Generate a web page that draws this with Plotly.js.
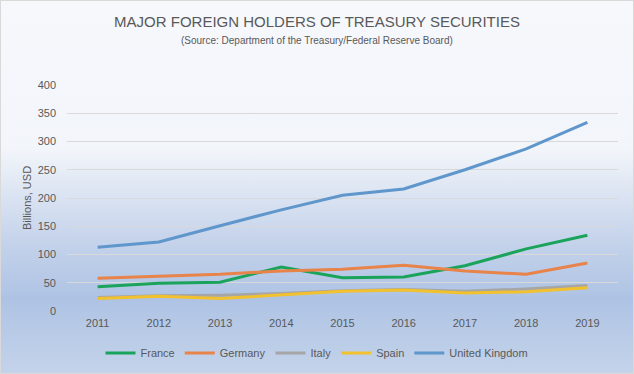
<!DOCTYPE html>
<html>
<head>
<meta charset="utf-8">
<script src="https://cdn.plot.ly/plotly-3.0.1.min.js"></script>
<style>
  html, body { margin: 0; padding: 0; }
  #chart {
    width: 634px; height: 374px; box-sizing: border-box;
    border: 1px solid #d9d9d9;
    background: linear-gradient(to bottom, #f6f8fc 0%, #f2f5fa 40%, #c9d6ec 62%, #aec3e4 80%, #c4d3ea 100%);
  }
</style>
</head>
<body>
<div id="chart"></div>
<script>
const years = ['2011','2012','2013','2014','2015','2016','2017','2018','2019'];
const france  = [43, 49, 51, 78, 59, 60, 80, 110, 134];
const germany = [58, 62, 65, 71, 74, 81, 71, 65, 85];
const italy   = [24, 27, 28, 31, 36, 38, 35, 39, 45];
const spain   = [22, 26, 22, 28, 35, 37, 32, 34, 41];
const uk      = [113, 122, 151, 179, 205, 216, 250, 287, 334];
const seriesNames = ['France', 'Germany', 'Italy', 'Spain', 'United Kingdom'];
const colors = ['#1aa35a', '#e8834a', '#a6a6a6', '#f2c12e', '#5f96cc'];
const values = [france, germany, italy, spain, uk];

const font = '"Liberation Sans", Arial, sans-serif';

const traces = values.map((v, i) => ({
  x: years, y: v, name: seriesNames[i], type: 'scatter', mode: 'lines',
  line: { color: colors[i], width: 3 }
}));

const W = 632, H = 372, mL = 66, mR = 15, plotTop = 84, plotBottom = 62;
const plotH = H - plotTop - plotBottom;
const plotW = W - mL - mR;

const layout = {
  width: W, height: H,
  paper_bgcolor: 'rgba(0,0,0,0)', plot_bgcolor: 'rgba(0,0,0,0)',
  margin: { l: mL, r: mR, t: plotTop, b: plotBottom },
  font: { family: font, color: '#595959', size: 11 },
  title: {
    text: 'MAJOR FOREIGN HOLDERS OF TREASURY SECURITIES',
    font: { family: font, size: 15, color: '#595959' },
    x: 0.5, xanchor: 'center', yref: 'container', y: 1 - 21 / H, yanchor: 'middle'
  },
  annotations: [{
    text: '(Source: Department of the Treasury/Federal Reserve Board)',
    xref: 'paper', yref: 'paper', x: (W / 2 - mL) / plotW, y: (H - plotBottom - 40) / plotH,
    xanchor: 'center', yanchor: 'middle', showarrow: false,
    font: { family: font, size: 10, color: '#595959' }
  }],
  xaxis: {
    type: 'category', range: [-0.5, 8.5], showgrid: false, zeroline: false, showline: false,
    ticks: '', tickfont: { size: 11, color: '#595959' }, ticklabelstandoff: 4
  },
  yaxis: {
    range: [0, 400], dtick: 50, showgrid: true, gridcolor: '#d9d9d9', gridwidth: 1,
    zeroline: false, showline: false, ticks: '',
    tickfont: { size: 11, color: '#595959' }, ticklabelstandoff: 10,
    title: { text: 'Billions, USD', font: { size: 11, color: '#595959' }, standoff: 3 }
  },
  legend: {
    orientation: 'h', x: 0.5, xanchor: 'center', xref: 'container',
    yref: 'container', y: 20 / H, yanchor: 'middle',
    font: { size: 11, color: '#595959' }, bgcolor: 'rgba(0,0,0,0)'
  },
  showlegend: true
};

Plotly.newPlot('chart', traces, layout, { displayModeBar: false, staticPlot: true });
</script>
</body>
</html>
